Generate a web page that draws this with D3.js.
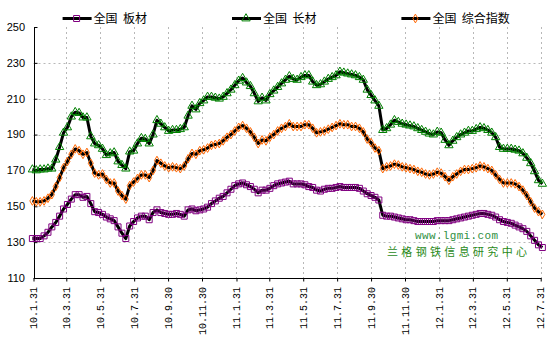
<!DOCTYPE html>
<html>
<head>
<meta charset="utf-8">
<script src="https://cdn.jsdelivr.net/npm/d3@7"></script>
<style>
  body { margin: 0; background: #fff; }
  svg { display: block; }
  text { white-space: pre; }
</style>
</head>
<body>
<div id="chart"></div>
<script>
// weekly index values, first week ending 2010-01-29
var firstWeek = "2010-01-29";

var banCai = [
  132, 132, 132, 133.5, 135.5, 138.5, 141, 144.5, 148.5, 151,
  154, 156.5, 156.5, 155, 155.5, 151.5, 147, 146.5, 145.5, 144,
  143, 142, 138.5, 135, 132, 139, 141.5, 143.5, 144.5, 144.5,
  142.5, 146.5, 148, 146.5, 146, 145.5, 145.5, 146, 145.5, 144.5,
  148, 148.5, 147.5, 148, 148.5, 149.5, 151.5, 153, 154.5, 155.5,
  157.5, 159.5, 161.5, 162.5, 163, 162, 161, 159.5, 157.5, 159,
  159, 160, 161.5, 162.5, 163, 163.5, 164, 162.5, 162.5, 162.5,
  162, 161, 160.5, 159, 158.5, 159.5, 160, 160, 160.5, 161,
  160.5, 160.5, 160.5, 160.5, 160, 158.5, 157, 156, 155, 153.5,
  145, 144.5, 144.5, 144, 143.5, 143, 142.5, 142.5, 142, 141.5,
  141.5, 141.5, 141.5, 141.5, 142, 142, 142, 142, 142.5, 143,
  143.5, 144, 144.5, 145, 145.5, 146, 146, 145.5, 145, 144,
  142.5, 141.5, 141, 140.5, 139.5, 138.5, 137.5, 136, 133.5, 131,
  128.5, 127
];

var changCai = [
  170.5, 170, 170.5, 170.5, 171, 171, 176, 183, 191, 194,
  200, 202.5, 202, 199.5, 199.5, 189, 185, 184, 182, 178.5,
  179.5, 180, 175, 173, 171, 180.5, 181, 185, 188, 187.5,
  185, 190, 198, 196, 194, 192, 192.5, 192.5, 193, 194,
  200.5, 206, 204, 207.5, 209, 211, 211, 210.5, 210, 211,
  213, 215, 217.5, 220, 221.5, 219, 217, 213, 208.5, 210.5,
  209, 212.5, 214.5, 216.5, 218.5, 220.5, 222.5, 221, 220.5, 222,
  223, 223, 219.5, 217.5, 218, 219.5, 221, 222, 223, 225,
  224.5, 224, 223.5, 223, 222, 220.5, 215, 212, 209, 206,
  192.5, 193.5, 195.5, 198, 197, 196, 195.5, 195, 194.5, 193.5,
  192.5, 191.5, 190.5, 190, 191.5, 191, 187, 184, 186.5, 188.5,
  190, 191, 192, 192, 193, 194, 193.5, 192.5, 191, 188.5,
  183, 182, 182, 182, 181.5, 181, 179.5, 177, 174, 169.5,
  164.5, 162.5
];

var zongHe = [
  153, 152.5, 152.5, 153, 154.5, 156.5, 161, 166, 171.5, 175,
  179, 182, 181, 179, 180, 174, 168.5, 167.5, 168, 165,
  163, 163, 158.5, 156, 154, 161.5, 163.5, 165.5, 167.5, 167.5,
  166, 170, 175.5, 174, 172.5, 171.5, 172, 171.5, 171, 172.5,
  176.5, 179.5, 179, 181, 181.5, 182.5, 184, 184.5, 185, 186.5,
  188.5, 190, 192, 194, 195, 193.5, 191.5, 188.5, 185, 187,
  186.5, 188.5, 190, 192, 193.5, 194.5, 196, 194.5, 194.5, 194.5,
  195.5, 195.5, 193.5, 191, 191.5, 192, 193, 194, 195, 196,
  195.5, 195.5, 194.5, 194.5, 193.5, 191.5, 187.5, 185.5, 182.5, 181,
  171, 172, 172.5, 173.5, 173, 172, 171.5, 171, 170.5, 169.5,
  169, 168, 167.5, 168, 169, 168.5, 166.5, 164.5, 166.5, 168,
  169.5, 170.5, 170.5, 171, 171.5, 172.5, 172, 171, 170, 167.5,
  165, 163, 163, 163, 162.5, 161, 159, 156, 152.5, 149,
  147, 145.5
];

var tickDates = [
  "2010-01-31", "2010-03-31", "2010-05-31", "2010-07-31", "2010-09-30", "2010-11-30",
  "2011-01-31", "2011-03-31", "2011-05-31", "2011-07-31", "2011-09-30", "2011-11-30",
  "2012-01-31", "2012-03-31", "2012-05-31", "2012-07-31"
];
var tickLabels = [
  "10.1.31", "10.3.31", "10.5.31", "10.7.31", "10.9.30", "10.11.30",
  "11.1.31", "11.3.31", "11.5.31", "11.7.31", "11.9.30", "11.11.30",
  "12.1.31", "12.3.31", "12.5.31", "12.7.31"
];
var yTicks = [110, 130, 150, 170, 190, 210, 230, 250];

var seriesNames = ["全国  板材", "全国  长材", "全国  综合指数"];

// set the dimensions of the graph
var width = 555, height = 359;
var plot = { left: 33.5, right: 540.7, top: 27, bottom: 278 };

var svg = d3
  .select("#chart")
  .append("svg")
  .attr("width", width)
  .attr("height", height)
  .style("font-family", "'Liberation Sans', Arial, sans-serif");

var parseDate = d3.timeParse("%Y-%m-%d");
var start = parseDate(firstWeek);
var weeks = banCai.map(function (d, i) {
  return d3.timeDay.offset(start, i * 7);
});

var x = d3
  .scaleTime()
  .domain([parseDate(tickDates[0]), parseDate(tickDates[tickDates.length - 1])])
  .range([plot.left, plot.right]);

var y = d3.scaleLinear().domain([110, 250]).range([plot.bottom, plot.top]);

// grid lines
svg
  .append("g")
  .selectAll("line")
  .data(yTicks.filter(function (d) { return d > 110 && d < 250; }))
  .enter()
  .append("line")
  .attr("x1", plot.left)
  .attr("x2", plot.right)
  .attr("y1", function (d) { return Math.round(y(d)) + 0.5; })
  .attr("y2", function (d) { return Math.round(y(d)) + 0.5; })
  .attr("stroke", "#b8b8b8")
  .attr("stroke-dasharray", "2,3");

svg
  .append("g")
  .selectAll("line")
  .data(tickDates.slice(1))
  .enter()
  .append("line")
  .attr("x1", function (d) { return Math.round(x(parseDate(d))) + 0.5; })
  .attr("x2", function (d) { return Math.round(x(parseDate(d))) + 0.5; })
  .attr("y1", plot.top)
  .attr("y2", plot.bottom)
  .attr("stroke", "#b8b8b8")
  .attr("stroke-dasharray", "2,3");

// axes
var yAxis = svg
  .append("g")
  .attr("transform", "translate(" + (Math.round(plot.left) + 0.5) + ",0)")
  .call(d3.axisRight(y).tickValues(yTicks).tickSize(3).tickFormat(""));
yAxis.select(".domain").attr("d", "M0," + plot.top + "V" + plot.bottom);

svg
  .append("g")
  .selectAll("text")
  .data(yTicks)
  .enter()
  .append("text")
  .attr("x", 25)
  .attr("y", function (d) { return y(d); })
  .attr("dy", "0.35em")
  .attr("text-anchor", "end")
  .attr("font-size", 11)
  .attr("fill", "#000")
  .text(function (d) { return d; });

var xAxis = svg
  .append("g")
  .attr("transform", "translate(0," + (plot.bottom + 0.5) + ")")
  .call(
    d3
      .axisBottom(x)
      .tickValues(tickDates.map(parseDate))
      .tickSize(3)
      .tickFormat("")
  );
xAxis.select(".domain").attr("d", "M" + plot.left + ",0H" + (plot.right + 1));
xAxis.selectAll("line").attr("stroke", "#000");

svg
  .append("g")
  .selectAll("text")
  .data(tickDates)
  .enter()
  .append("text")
  .attr("transform", function (d) {
    return "translate(" + x(parseDate(d)) + ",287) rotate(-90)";
  })
  .attr("dy", "0.35em")
  .attr("text-anchor", "end")
  .attr("font-size", 10)
  .style("font-family", "'Liberation Mono', monospace")
  .text(function (d, i) { return tickLabels[i]; });

// marker shapes
var markers = [
  { data: banCai, color: "#800080", symbol: d3.symbolSquare, size: 36 },
  { data: changCai, color: "#008000", symbol: d3.symbolTriangle, size: 30 },
  { data: zongHe, color: "#ff6600", symbol: d3.symbolDiamond, size: 22 }
];

var line = d3
  .line()
  .x(function (d, i) { return x(weeks[i]); })
  .y(function (d) { return y(d); });

markers.forEach(function (s) {
  svg
    .append("path")
    .datum(s.data)
    .attr("fill", "none")
    .attr("stroke", "#000")
    .attr("stroke-width", 3)
    .attr("stroke-linejoin", "round")
    .attr("d", line);

  svg
    .append("g")
    .selectAll("path")
    .data(s.data)
    .enter()
    .append("path")
    .attr("transform", function (d, i) {
      return "translate(" + x(weeks[i]) + "," + y(d) + ")";
    })
    .attr("d", d3.symbol().type(s.symbol).size(s.size))
    .attr("fill", "none")
    .attr("stroke", s.color)
    .attr("stroke-width", 1);
});

// legend
var legendX = [62.6, 232, 401.4];
var legend = svg
  .append("g")
  .selectAll("g")
  .data(seriesNames)
  .enter()
  .append("g")
  .attr("transform", function (d, i) { return "translate(" + legendX[i] + ",18.5)"; });

legend
  .append("line")
  .attr("x1", 0)
  .attr("x2", 29)
  .attr("stroke", "#000")
  .attr("stroke-width", 3);

legend
  .append("path")
  .attr("transform", "translate(14,0)")
  .attr("d", function (d, i) {
    return d3.symbol().type(markers[i].symbol).size(markers[i].size)();
  })
  .attr("fill", "none")
  .attr("stroke", function (d, i) { return markers[i].color; });

legend
  .append("text")
  .attr("x", 31)
  .attr("dy", "0.35em")
  .attr("font-size", 12)
  .style("font-family", "'Noto Sans CJK SC', sans-serif")
  .text(function (d) { return d; });

// watermark
svg
  .append("text")
  .attr("x", 415)
  .attr("y", 235)
  .attr("dy", "0.35em")
  .attr("font-size", 11)
  .attr("textLength", 83)
  .attr("fill", "#2f8f3f")
  .style("font-family", "'Liberation Mono', monospace")
  .text("www.lgmi.com");

svg
  .append("text")
  .attr("x", 387)
  .attr("y", 252.5)
  .attr("dy", "0.35em")
  .attr("font-size", 11)
  .attr("textLength", 140)
  .attr("fill", "#2a8a1a")
  .style("font-family", "'Noto Sans CJK SC', sans-serif")
  .text("兰格钢铁信息研究中心");
</script>
</body>
</html>
